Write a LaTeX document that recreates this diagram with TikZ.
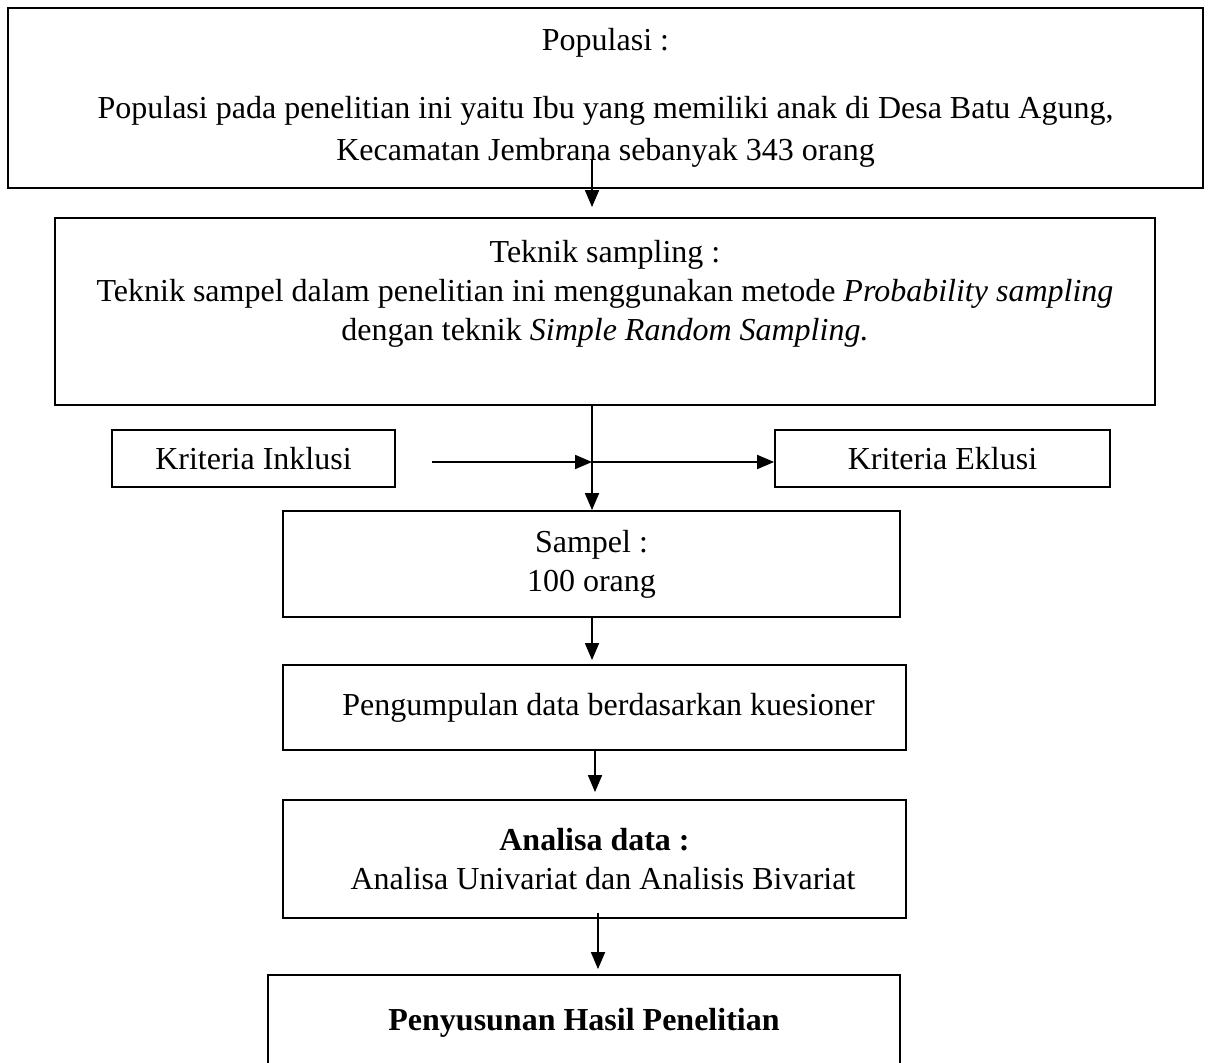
\documentclass[tikz,border=0pt]{standalone}
\usepackage{fontspec}
\setmainfont{Liberation Serif}
\usetikzlibrary{arrows.meta}
\begin{document}
\begin{tikzpicture}[x=0.5pt, y=-0.5pt,
    box/.style={draw, line width=0.9pt, align=center, inner sep=0pt},
    txt/.style={font=\fontsize{16}{19.5}\selectfont},
    arr/.style={-{Triangle[width=7pt,length=8.5pt]}, line width=0.9pt}]
    \useasboundingbox (0,0) rectangle (1208,1063);
    \clip (0,0) rectangle (1208,1063);
    % boxes
    \node[box, font=\fontsize{16}{21}\selectfont, minimum width=597.5pt, minimum height=90pt] (pop) at (605.5,98)
        {Populasi :\\[13pt]
         Populasi pada penelitian ini yaitu Ibu yang memiliki anak di Desa Batu Agung,\\
         Kecamatan Jembrana sebanyak 343 orang};
    \node[box, txt, minimum width=550pt, minimum height=93.5pt] (tek) at (605,311.5)
        {Teknik sampling :\\
         Teknik sampel dalam penelitian ini menggunakan metode \textit{Probability sampling}\\
         dengan teknik \textit{Simple Random Sampling.}\\[2pt]\mbox{}};
    \node[box, txt, minimum width=141.5pt, minimum height=28.5pt] (ink) at (253.5,458.5) {Kriteria Inklusi};
    \node[box, txt, minimum width=167.5pt, minimum height=28.5pt] (ekl) at (942.5,458.5) {Kriteria Eklusi};
    \node[box, txt, minimum width=308.5pt, minimum height=53pt] (smp) at (591.5,564) {Sampel :\\ 100 orang};
    \node[box, txt, minimum width=311.5pt, minimum height=42.5pt] (kue) at (594.5,707.5)
        {\hspace*{14pt}Pengumpulan data berdasarkan kuesioner};
    \node[box, txt, minimum width=311.5pt, minimum height=59pt] (ana) at (594.5,859)
        {\textbf{Analisa data :}\\ \hspace*{8.5pt}Analisa Univariat dan Analisis Bivariat};
    \node[box, txt, minimum width=316pt, minimum height=67.5pt] (hsl) at (584,1042.5)
        {\textbf{Penyusunan Hasil Penelitian}\\[4pt]\mbox{}};
    % connectors
    \coordinate (jemb) at (592,160);
    \coordinate (hub) at (592,462);
    \coordinate (inkend) at (432,462);
    \coordinate (smpout) at (592,617);
    \coordinate (kueout) at (595,750);
    \coordinate (anaout) at (598,913);
    \draw[arr, shorten >=5pt] (jemb) -- (jemb |- tek.north);
    \draw[arr] (hub |- tek.south) -- (hub |- smp.north);
    \draw[arr] (inkend) -- (hub);
    \draw[arr] (hub) -- (hub -| ekl.west);
    \draw[arr, shorten >=2pt] (smpout) -- (smpout |- kue.north);
    \draw[arr, shorten >=3.5pt] (kueout) -- (kueout |- ana.north);
    \draw[arr, shorten >=2.5pt] (anaout) -- (anaout |- hsl.north);
\end{tikzpicture}
\end{document}
